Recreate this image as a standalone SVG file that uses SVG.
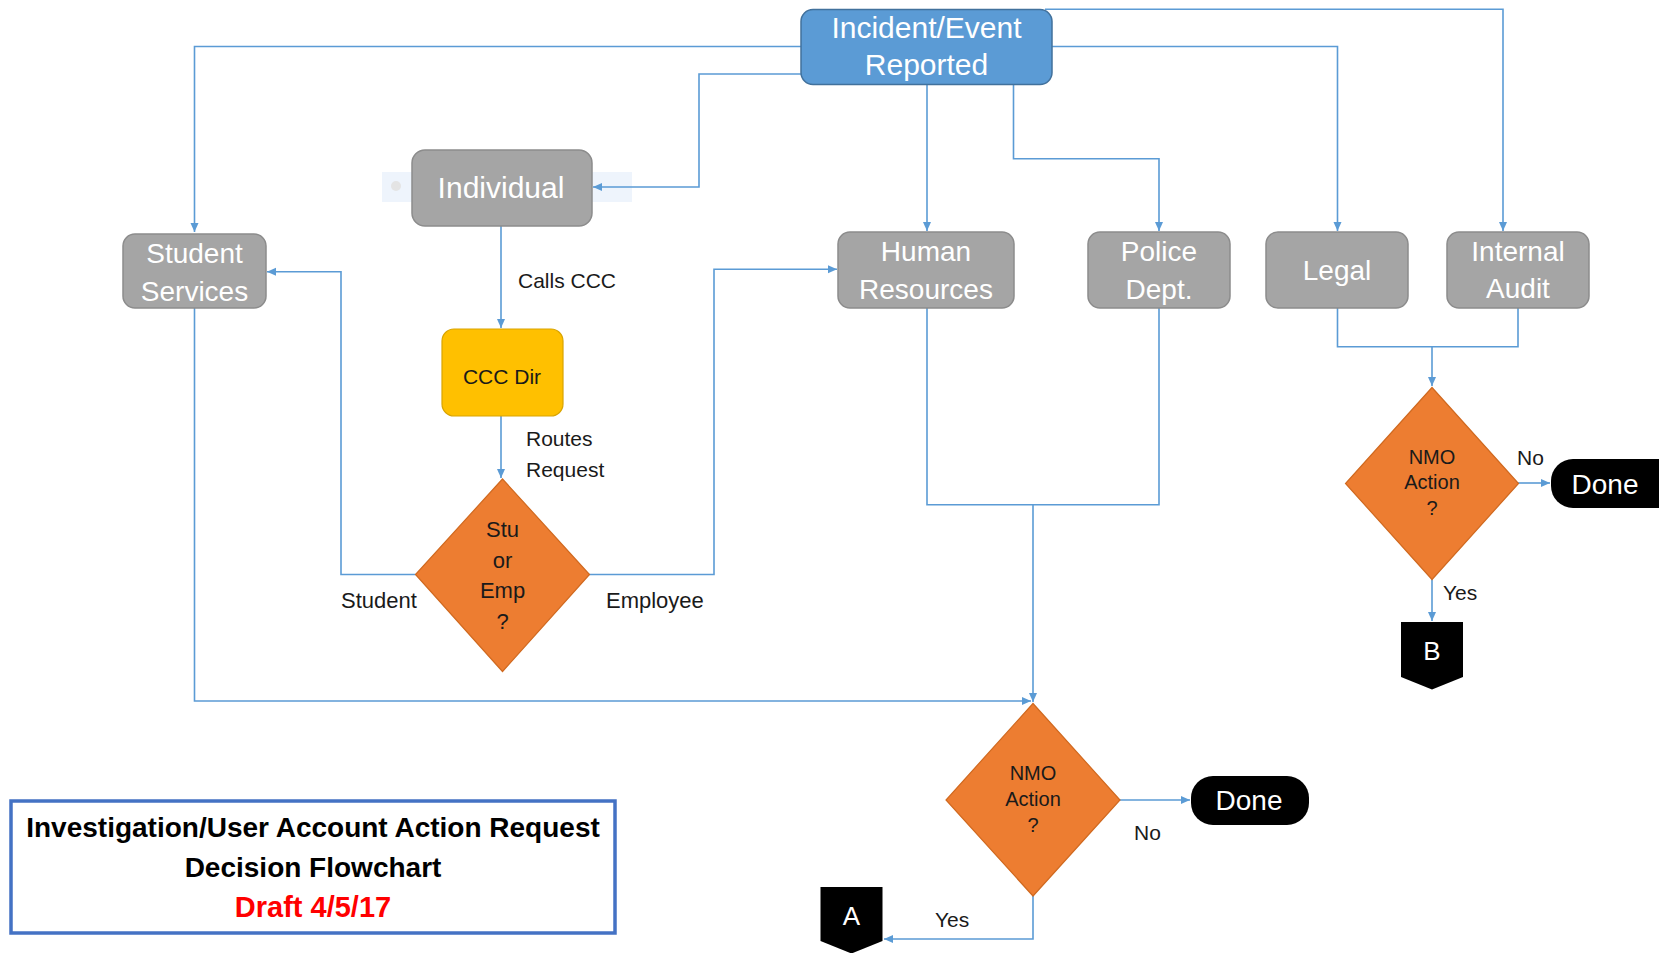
<svg xmlns="http://www.w3.org/2000/svg" width="1659" height="953" viewBox="0 0 1659 953">
<defs>
<style>
.box{fill:#A5A5A5;stroke:#8C8C8C;stroke-width:1.5}
.btxt{font-family:"Liberation Sans",Arial,sans-serif;font-size:28px;fill:#FFFFFF;text-anchor:middle}
.dia{fill:#ED7D31;stroke:#D0691F;stroke-width:1.2}
.dtxt{font-family:"Liberation Sans",Arial,sans-serif;font-size:20px;fill:#1a1a1a;text-anchor:middle}
.lbl{font-family:"Liberation Sans",Arial,sans-serif;font-size:21px;fill:#1a1a1a}
.term{fill:#000000}
.ttxt{font-family:"Liberation Sans",Arial,sans-serif;font-size:28px;fill:#FFFFFF;text-anchor:middle}
.conn{fill:none;stroke:#5B9BD5;stroke-width:1.6}
.title{font-family:"Liberation Sans",Arial,sans-serif;font-size:28px;font-weight:bold;text-anchor:middle}
</style>
<marker id="arr" markerWidth="10" markerHeight="10" refX="9" refY="5" orient="auto" markerUnits="userSpaceOnUse">
<path d="M0,1 L9,5 L0,9 Z" fill="#5B9BD5"/>
</marker>
</defs>
<rect x="0" y="0" width="1659" height="953" fill="#FFFFFF"/>

<g id="ghost">
<rect x="382" y="172" width="250" height="30" fill="#EEF4FC"/>
<circle cx="396" cy="186" r="5" fill="#E4E4E4"/>
</g>

<g id="connectors">
<path class="conn" d="M801,46.5 H194.5 V232" marker-end="url(#arr)"/>
<path class="conn" d="M801,74 H699 V187 H593" marker-end="url(#arr)"/>
<path class="conn" d="M927,84 V231" marker-end="url(#arr)"/>
<path class="conn" d="M1013.5,84 V158.7 H1159 V231" marker-end="url(#arr)"/>
<path class="conn" d="M1052,46.5 H1337.5 V231" marker-end="url(#arr)"/>
<path class="conn" d="M1045,9.3 H1503 V231" marker-end="url(#arr)"/>
<path class="conn" d="M501,226 V328" marker-end="url(#arr)"/>
<path class="conn" d="M501,416 V478" marker-end="url(#arr)"/>
<path class="conn" d="M416,574.5 H341 V271.7 H267" marker-end="url(#arr)"/>
<path class="conn" d="M589,574.5 H714 V269.3 H837" marker-end="url(#arr)"/>
<path class="conn" d="M194.5,308 V701 H1031" marker-end="url(#arr)"/>
<path class="conn" d="M927,308 V504.7 H1159 V308"/>
<path class="conn" d="M1033,504.7 V702" marker-end="url(#arr)"/>
<path class="conn" d="M1337.5,308 V346.7 H1518 V308"/>
<path class="conn" d="M1432,346.7 V386" marker-end="url(#arr)"/>
<path class="conn" d="M1518,483 H1550" marker-end="url(#arr)"/>
<path class="conn" d="M1432,579 V621" marker-end="url(#arr)"/>
<path class="conn" d="M1120,800 H1190" marker-end="url(#arr)"/>
<path class="conn" d="M1033,896 V939 H884" marker-end="url(#arr)"/>
</g>

<g id="incident">
<rect x="801" y="9.5" width="251" height="75" rx="12" fill="#5B9BD5" stroke="#41719C" stroke-width="1.5"/>
<text class="btxt" x="926.5" y="38" style="font-size:30px">Incident/Event</text>
<text class="btxt" x="926.5" y="75" style="font-size:30px">Reported</text>
</g>

<g id="individual">
<rect class="box" x="412" y="150" width="180" height="76" rx="13"/>
<text class="btxt" x="501" y="198" style="font-size:30px">Individual</text>
</g>

<g id="student-services">
<rect class="box" x="123" y="234" width="143" height="74" rx="12"/>
<text class="btxt" x="194.5" y="263">Student</text>
<text class="btxt" x="194.5" y="301">Services</text>
</g>

<g id="human-resources">
<rect class="box" x="838" y="232" width="176" height="76" rx="12"/>
<text class="btxt" x="926" y="261">Human</text>
<text class="btxt" x="926" y="299">Resources</text>
</g>

<g id="police">
<rect class="box" x="1088" y="232" width="142" height="76" rx="12"/>
<text class="btxt" x="1159" y="261">Police</text>
<text class="btxt" x="1159" y="299">Dept.</text>
</g>

<g id="legal">
<rect class="box" x="1266" y="232" width="142" height="76" rx="12"/>
<text class="btxt" x="1337" y="280">Legal</text>
</g>

<g id="internal-audit">
<rect class="box" x="1447" y="232" width="142" height="76" rx="12"/>
<text class="btxt" x="1518" y="261">Internal</text>
<text class="btxt" x="1518" y="298">Audit</text>
</g>

<g id="ccc-dir">
<rect x="442" y="329" width="121" height="87" rx="12" fill="#FFC000" stroke="#D9A400" stroke-width="1.2"/>
<text class="dtxt" x="502" y="384" style="font-size:21px">CCC Dir</text>
</g>

<g id="stu-or-emp">
<polygon class="dia" points="502.5,479 589.5,574.5 502.5,671.5 415.5,574.5"/>
<text class="dtxt" x="502.5" y="537" style="font-size:22px">Stu</text>
<text class="dtxt" x="502.5" y="568" style="font-size:22px">or</text>
<text class="dtxt" x="502.5" y="598" style="font-size:22px">Emp</text>
<text class="dtxt" x="502.5" y="629" style="font-size:22px">?</text>
</g>

<g id="nmo-top">
<polygon class="dia" points="1432,387.5 1518.5,483.5 1432,579.5 1345.5,483.5"/>
<text class="dtxt" x="1432" y="464">NMO</text>
<text class="dtxt" x="1432" y="489">Action</text>
<text class="dtxt" x="1432" y="515">?</text>
</g>

<g id="done-top">
<rect class="term" x="1551" y="459" width="130" height="49" rx="22"/>
<text class="ttxt" x="1605" y="494">Done</text>
</g>

<g id="connector-b">
<polygon class="term" points="1401,622 1463,622 1463,677 1432,689.5 1401,677"/>
<text class="ttxt" x="1432" y="660" style="font-size:26px">B</text>
</g>

<g id="nmo-bottom">
<polygon class="dia" points="1033,703.5 1120,800 1033,896 946,800"/>
<text class="dtxt" x="1033" y="780">NMO</text>
<text class="dtxt" x="1033" y="806">Action</text>
<text class="dtxt" x="1033" y="831.5">?</text>
</g>

<g id="done-bottom">
<rect class="term" x="1191" y="776" width="118" height="49" rx="22"/>
<text class="ttxt" x="1249" y="810">Done</text>
</g>

<g id="connector-a">
<polygon class="term" points="820.5,887 882.5,887 882.5,941 851.5,953.5 820.5,941"/>
<text class="ttxt" x="851.5" y="925" style="font-size:26px">A</text>
</g>

<g id="labels">
<text class="lbl" x="518" y="288">Calls CCC</text>
<text class="lbl" x="526" y="446">Routes</text>
<text class="lbl" x="526" y="477">Request</text>
<text class="lbl" x="341" y="608" style="font-size:22px">Student</text>
<text class="lbl" x="606" y="608" style="font-size:22px">Employee</text>
<text class="lbl" x="1517" y="465">No</text>
<text class="lbl" x="1443" y="600">Yes</text>
<text class="lbl" x="1134" y="840">No</text>
<text class="lbl" x="935" y="927">Yes</text>
</g>

<g id="title">
<rect x="11" y="801" width="604" height="132" fill="#FFFFFF" stroke="#4472C4" stroke-width="3.5"/>
<text class="title" x="313" y="837" fill="#000000">Investigation/User Account Action Request</text>
<text class="title" x="313" y="877" fill="#000000">Decision Flowchart</text>
<text class="title" x="313" y="917" fill="#FF0000" style="font-size:29px">Draft 4/5/17</text>
</g>
</svg>
